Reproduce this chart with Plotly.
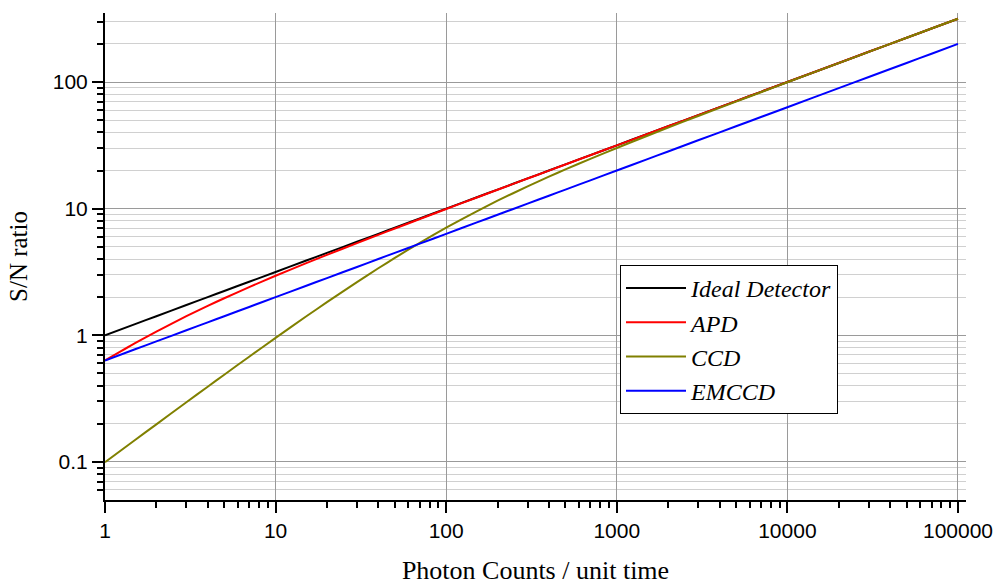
import plotly.graph_objects as go

photon_counts = [1, 1.5, 2, 3, 4, 5, 7, 10, 15, 20, 30, 40, 50, 70, 100, 150, 200, 300, 400, 500, 700,
                 1000, 1500, 2000, 3000, 5000, 7000, 10000, 20000, 30000, 50000, 70000, 100000]

ideal_sn = [1.0, 1.225, 1.414, 1.732, 2.0, 2.236, 2.646, 3.162, 3.873, 4.472, 5.477, 6.325, 7.071, 8.367, 10.0,
            12.25, 14.14, 17.32, 20.0, 22.36, 26.46, 31.62, 38.73, 44.72, 54.77, 70.71, 83.67, 100.0,
            141.4, 173.2, 223.6, 264.6, 316.2]
apd_sn = [0.632, 0.866, 1.069, 1.414, 1.706, 1.961, 2.401, 2.949, 3.693, 4.313, 5.345, 6.209, 6.967, 8.278, 9.926,
          12.19, 14.09, 17.28, 19.96, 22.33, 26.43, 31.60, 38.71, 44.70, 54.76, 70.70, 83.66, 99.99,
          141.4, 173.2, 223.6, 264.6, 316.2]
ccd_sn = [0.0995, 0.1489, 0.198, 0.296, 0.3922, 0.488, 0.677, 0.953, 1.399, 1.826, 2.631, 3.381, 4.082, 5.369, 7.071,
          9.487, 11.55, 15.0, 17.89, 20.41, 24.75, 30.15, 37.5, 43.64, 53.88, 70.01, 83.07, 99.50,
          141.1, 172.9, 223.4, 264.4, 316.1]
emccd_sn = [0.632, 0.7746, 0.894, 1.095, 1.265, 1.414, 1.673, 2.0, 2.449, 2.828, 3.464, 4.0, 4.472, 5.292, 6.325,
            7.746, 8.944, 10.95, 12.65, 14.14, 16.73, 20.0, 24.49, 28.28, 34.64, 44.72, 52.92, 63.25,
            89.44, 109.5, 141.4, 167.3, 200.0]

series_names = ["Ideal Detector", "APD", "CCD", "EMCCD"]
series_values = [ideal_sn, apd_sn, ccd_sn, emccd_sn]
series_colors = ["#000000", "#ff0000", "#808000", "#0000ff"]

x_tick_vals = [1, 10, 100, 1000, 10000, 100000]
x_tick_text = ["1", "10", "100", "1000", "10000", "100000"]
y_tick_vals = [0.1, 1, 10, 100]
y_tick_text = ["0.1", "1", "10", "100"]

x_minor = [m * 10 ** d for d in range(0, 5) for m in range(2, 10)]
y_minor = [0.06, 0.07, 0.08, 0.09] + [m * 10 ** d for d in range(-1, 2) for m in range(2, 10)] + [200, 300]

fig = go.Figure()
for i, (name, vals, col) in enumerate(zip(series_names, series_values, series_colors)):
    fig.add_trace(go.Scatter(
        x=photon_counts, y=vals, mode="lines", name=name,
        line=dict(color=col, width=2, shape="spline", smoothing=0.6),
    ))

fig.update_layout(
    width=999, height=585,
    margin=dict(l=105, r=33, t=13, b=85),
    paper_bgcolor="white", plot_bgcolor="white",
    font=dict(family="Liberation Sans, Arial, sans-serif", color="black"),
    legend=dict(
        x=(620 - 105) / 861, y=(500 - 265) / 487, xanchor="left", yanchor="top",
        bgcolor="white", bordercolor="black", borderwidth=1,
        font=dict(family="Liberation Serif, Times New Roman, serif", size=24, style="italic"),
        itemwidth=60,
    ),
    xaxis=dict(
        type="log", range=[0, 5.047], automargin=False,
        tickmode="array", tickvals=x_tick_vals, ticktext=x_tick_text,
        ticks="outside", ticklen=11, tickwidth=2, tickcolor="black",
        showline=True, linecolor="black", linewidth=2,
        showgrid=True, gridcolor="#9a9a9a", gridwidth=1,
        tickfont=dict(size=21, family="Liberation Sans, Arial, sans-serif"),
        minor=dict(tickvals=x_minor, ticks="outside", ticklen=6, tickwidth=2,
                   tickcolor="black", showgrid=False),
        title=dict(text="Photon Counts / unit time",
                   font=dict(family="Liberation Serif, Times New Roman, serif", size=26),
                   standoff=22),
        zeroline=False,
    ),
    yaxis=dict(
        type="log", range=[-1.301, 2.545], automargin=False,
        tickmode="array", tickvals=y_tick_vals, ticktext=y_tick_text,
        ticks="outside", ticklen=11, tickwidth=2, tickcolor="black",
        showline=True, linecolor="black", linewidth=2,
        showgrid=True, gridcolor="#9a9a9a", gridwidth=1,
        tickfont=dict(size=21, family="Liberation Sans, Arial, sans-serif"),
        minor=dict(tickvals=y_minor, ticks="outside", ticklen=6, tickwidth=2,
                   tickcolor="black", showgrid=True, gridcolor="#d0d0d0", gridwidth=1),
        title=dict(text="S/N ratio",
                   font=dict(family="Liberation Serif, Times New Roman, serif", size=25),
                   standoff=18),
        zeroline=False,
    ),
)

fig.write_html("out.html")
